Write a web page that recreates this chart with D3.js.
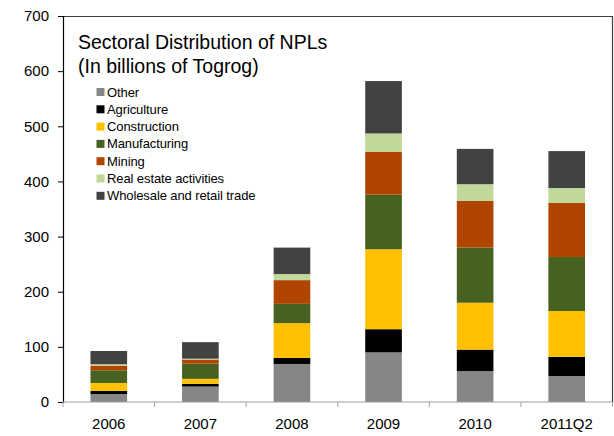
<!DOCTYPE html>
<html lang="en">
<head>
  <meta charset="UTF-8">
  <title>Sectoral Distribution of NPLs</title>
  <script src="https://d3js.org/d3.v7.min.js"></script>
  <style>
    body {
      margin: 0;
      padding: 0;
      background: #fff;
      font-family: 'Liberation Sans', Arial, sans-serif;
    }
    .tick text {
      font-size: 15px;
      fill: #000;
    }
  </style>
</head>
<body>
<div id="chart"></div>

<script>
// Data (billions of Togrog)
const years = ["2006", "2007", "2008", "2009", "2010", "2011Q2"];
const sectors = ["Other", "Agriculture", "Construction", "Manufacturing", "Mining",
                 "Real estate activities", "Wholesale and retail trade"];
const other         = [14.5, 28, 69, 90, 56, 47];
const agriculture   = [5.5, 5, 11, 42, 39, 35];
const construction  = [14.5, 9, 63, 145, 85, 83];
const manufacturing = [23, 27.5, 35, 99, 100, 98];
const mining        = [8.5, 7.5, 43, 78, 85, 98];
const realEstate    = [2.5, 1.5, 11, 33, 30, 27];
const wholesale     = [24, 30, 48, 95, 64, 67];
const colors = ["#868686", "#000000", "#ffc000", "#466120", "#b04500", "#c0d89a", "#424242"];
const yTicks = [0, 100, 200, 300, 400, 500, 600, 700];

const series = [other, agriculture, construction, manufacturing, mining, realEstate, wholesale];
const rows = years.map((y, i) => {
  const r = { year: y };
  sectors.forEach((s, k) => { r[s] = series[k][i]; });
  return r;
});

const W = 614, H = 436;
const margin = { top: 16, right: 1.5, bottom: 34, left: 63 };
const width = W - margin.left - margin.right;
const height = H - margin.top - margin.bottom;

const svg = d3.select("#chart").append("svg")
    .attr("width", W)
    .attr("height", H);

const g = svg.append("g")
    .attr("transform", `translate(${margin.left},${margin.top})`);

const x = d3.scaleBand().domain(years).range([0, width]).paddingInner(0.6).paddingOuter(0.3);
const y = d3.scaleLinear().domain([0, 700]).range([height, 0]);

const stack = d3.stack().keys(sectors);
const layers = stack(rows);

// bars
g.selectAll(".layer")
    .data(layers)
    .enter().append("g")
    .attr("class", "layer")
    .attr("fill", (d, i) => colors[i])
  .selectAll("rect")
    .data(d => d)
    .enter().append("rect")
    .attr("x", d => x(d.data.year))
    .attr("width", x.bandwidth())
    .attr("y", d => y(d[1]))
    .attr("height", d => y(d[0]) - y(d[1]));

// frame: top and right
g.append("path")
    .attr("d", `M0,0.5H${width}V${height}`)
    .attr("fill", "none")
    .attr("stroke", "#404040")
    .attr("stroke-width", 1.2);

// y axis
const yAxis = g.append("g")
    .call(d3.axisLeft(y).tickValues(yTicks).tickSize(5).tickPadding(9));
yAxis.select(".domain").attr("stroke", "#000").attr("stroke-width", 1.2);
yAxis.selectAll(".tick line").attr("stroke", "#000");

// x axis with ticks at category boundaries
const xAxis = g.append("g")
    .attr("transform", `translate(0,${height})`);
xAxis.append("line")
    .attr("x1", 0).attr("x2", width)
    .attr("stroke", "#a0a0a0").attr("stroke-width", 1.2);
const step = width / years.length;
xAxis.selectAll(".xt")
    .data(d3.range(years.length + 1))
    .enter().append("line")
    .attr("x1", d => d * step).attr("x2", d => d * step)
    .attr("y1", 0).attr("y2", 5)
    .attr("stroke", "#a0a0a0");
xAxis.selectAll(".xl")
    .data(years)
    .enter().append("text")
    .attr("x", d => x(d) + x.bandwidth() / 2)
    .attr("y", 27)
    .attr("text-anchor", "middle")
    .attr("font-size", 15)
    .text(d => d);

// title
const title = svg.append("text")
    .attr("x", 78)
    .attr("y", 49)
    .attr("font-size", 19.5)
    .attr("fill", "#000");
title.append("tspan").attr("x", 78).text("Sectoral Distribution of NPLs");
title.append("tspan").attr("x", 78).attr("dy", 24).text("(In billions of Togrog)");

// legend
const legend = svg.append("g").attr("transform", "translate(96,92)");
const item = legend.selectAll(".item")
    .data(sectors)
    .enter().append("g")
    .attr("transform", (d, i) => `translate(0,${i * 17.3})`);
item.append("rect")
    .attr("x", 0.5).attr("y", -4)
    .attr("width", 8).attr("height", 8)
    .attr("fill", (d, i) => colors[i]);
item.append("text")
    .attr("x", 11)
    .attr("y", 4.5)
    .attr("font-size", 13)
    .attr("letter-spacing", -0.1)
    .text(d => d);
</script>
</body>
</html>
